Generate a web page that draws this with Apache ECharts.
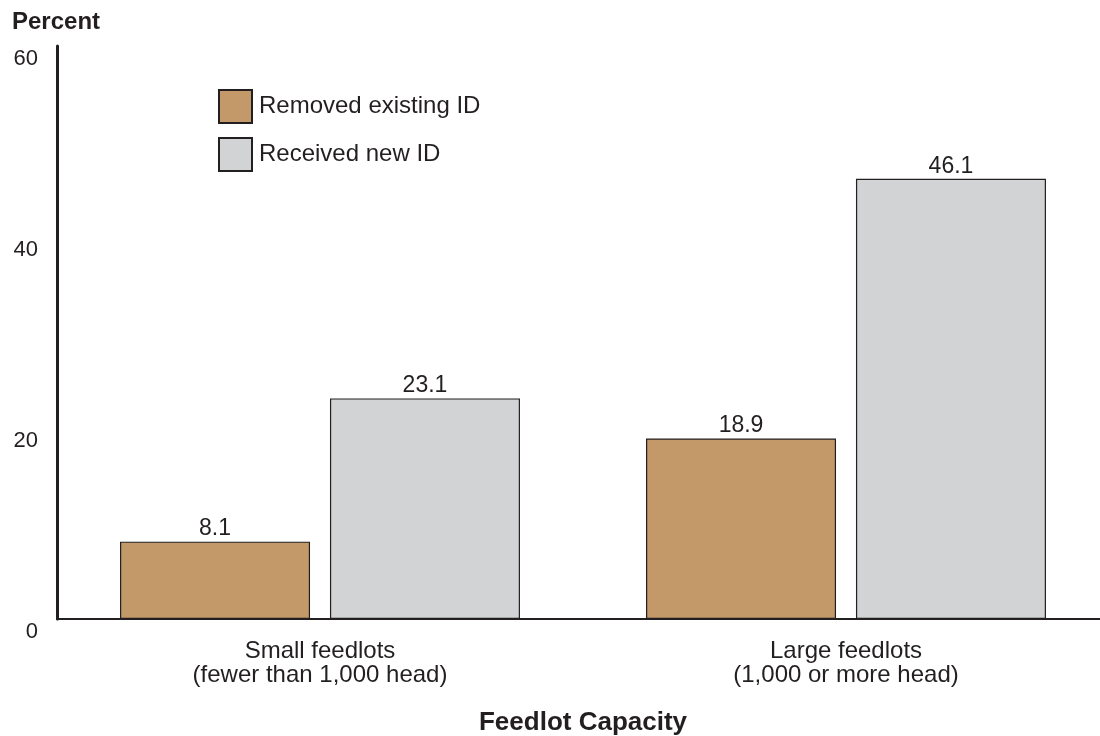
<!DOCTYPE html>
<html>
<head>
<meta charset="utf-8">
<script src="https://cdn.jsdelivr.net/npm/echarts@6/dist/echarts.min.js"></script>
<style>
  html, body { margin: 0; padding: 0; background: #fff; overflow: hidden; }
  #chart { width: 1100px; height: 736px; }
</style>
</head>
<body>
<div id="chart"></div>
<script>
// Feedlot capacity groups
const categories = ['Small feedlots\n(fewer than 1,000 head)', 'Large feedlots\n(1,000 or more head)'];
// Percent of feedlots
const removedExisting = [8.1, 18.9];
const receivedNew = [23.1, 46.1];
const yTicks = [0, 20, 40, 60];

const ink = '#231f20';
const font = 'Liberation Sans, Arial, sans-serif';

const chart = echarts.init(document.getElementById('chart'), null, { renderer: 'canvas' });

const valueLabel = {
  show: true,
  position: 'top',
  distance: 1,
  color: ink,
  fontSize: 23,
  fontFamily: font
};

chart.setOption({
  animation: false,
  textStyle: { fontFamily: font },
  graphic: [{
    type: 'text',
    left: 12,
    top: 10,
    style: { text: 'Percent', font: 'bold 24px ' + font, fill: ink }
  }],
  legend: {
    orient: 'vertical',
    left: 213,
    top: 84,
    itemWidth: 33,
    itemHeight: 33,
    itemGap: 13,
    icon: 'rect',
    textStyle: { color: ink, fontSize: 24, fontFamily: font, padding: [1, 0, 0, 2] },
    data: ['Removed existing ID', 'Received new ID']
  },
  // the plot area runs a few pixels past the right edge of the canvas
  grid: { left: 57, top: 46, width: 1052, height: 573, outerBoundsMode: 'none', containLabel: false },
  xAxis: {
    type: 'category',
    data: categories,
    name: 'Feedlot Capacity',
    nameLocation: 'middle',
    nameGap: 91,
    nameTextStyle: { color: ink, fontSize: 26, fontWeight: 'bold', fontFamily: font },
    axisLine: { lineStyle: { color: ink, width: 2 } },
    axisTick: { show: false },
    axisLabel: { color: ink, fontSize: 24, lineHeight: 24, margin: 20, fontFamily: font }
  },
  yAxis: {
    type: 'value',
    min: 0,
    max: 60,
    interval: 20,
    axisLine: { show: true, lineStyle: { color: ink, width: 3 } },
    axisTick: { show: false },
    splitLine: { show: false },
    axisLabel: {
      color: ink,
      fontSize: 22,
      margin: 19,
      verticalAlign: 'top',
      padding: [2, 0, 0, 0],
      fontFamily: font,
      formatter: v => (yTicks.includes(v) ? String(v) : '')
    }
  },
  series: [
    {
      name: 'Removed existing ID',
      type: 'bar',
      data: removedExisting,
      barWidth: 190,
      barGap: '10.5%',
      itemStyle: { color: '#c4996a', borderColor: ink, borderWidth: 1.2 },
      label: valueLabel
    },
    {
      name: 'Received new ID',
      type: 'bar',
      data: receivedNew,
      barWidth: 190,
      itemStyle: { color: '#d1d3d4', borderColor: ink, borderWidth: 1.2 },
      label: valueLabel
    }
  ]
});
</script>
</body>
</html>
